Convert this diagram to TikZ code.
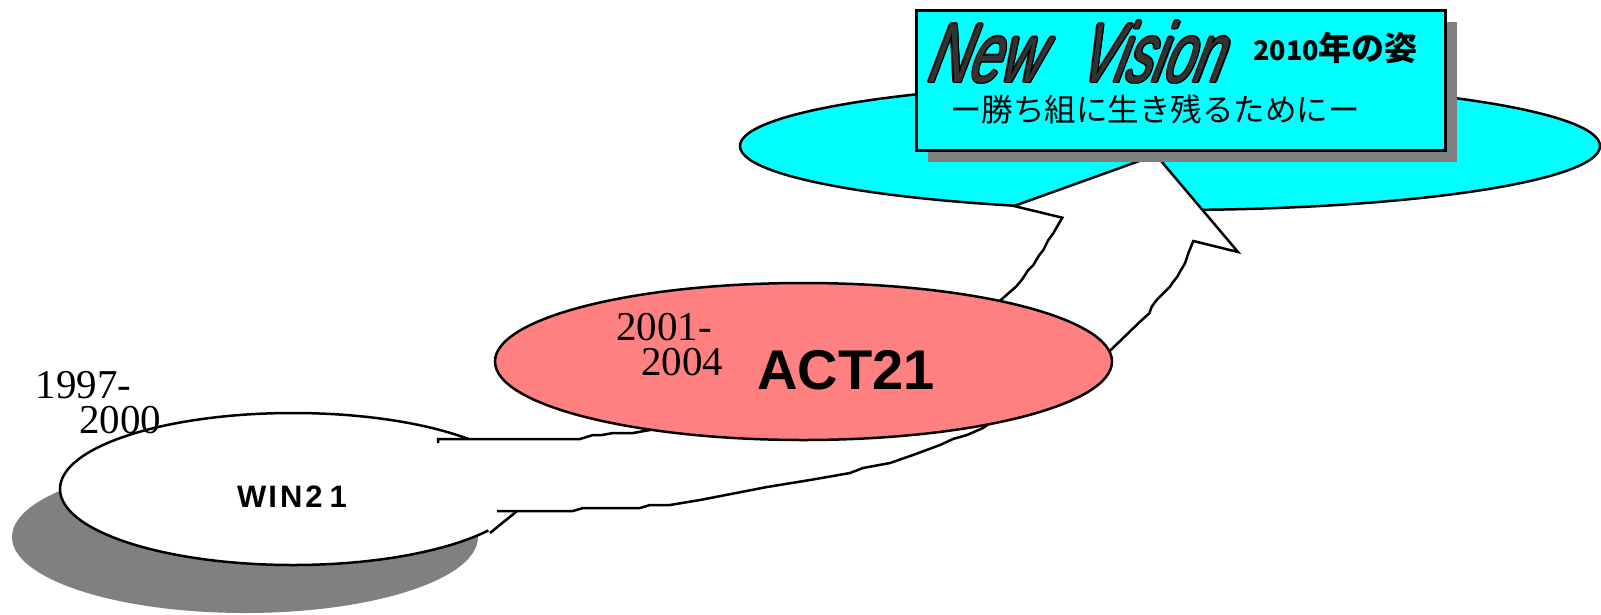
\documentclass[tikz,border=0pt]{standalone}
\usepackage{fontspec}
\setmainfont{Liberation Serif}
\newfontfamily\sansfont{Liberation Sans}
\newfontfamily\nvfontA[FakeSlant=0.38,FakeStretch=0.68]{Liberation Sans}
\newfontfamily\nvfontB[FakeSlant=0.38,FakeStretch=0.63]{Liberation Sans}
\newfontfamily\jpfont{Noto Sans CJK JP}
\usetikzlibrary{shapes.geometric}
\definecolor{cyanfill}{HTML}{00FFFF}
\definecolor{pinkfill}{HTML}{FF8080}
\definecolor{shadowgray}{HTML}{808080}
\definecolor{nvgray}{HTML}{333333}
\begin{document}
\begin{tikzpicture}[x=1pt,y=-1pt,
  outline/.style={draw=black,line width=2.5pt},
  oval/.style={ellipse,inner sep=0pt,outer sep=0pt},
  yeartext/.style={anchor=base west,inner sep=0pt,font=\fontsize{41}{41}\selectfont},
  nvtextA/.style={anchor=base west,inner sep=0pt,font=\nvfontA\fontsize{84}{84}\selectfont},
  nvtextB/.style={anchor=base west,inner sep=0pt,font=\nvfontB\fontsize{84}{84}\selectfont},
  arrowline/.style={draw=black,line width=2.5pt}
]
\useasboundingbox (0,0) rectangle (1601,614);

% WIN21 shadow and ellipse
\node[oval,fill=shadowgray,minimum width=466pt,minimum height=152pt] (winshadow) at (245,537) {};
\node[oval,outline,fill=white,minimum width=466pt,minimum height=152pt] (win) at (293,489) {};

% New Vision ellipse
\node[oval,outline,fill=cyanfill,minimum width=860pt,minimum height=128pt] (vision) at (1170,146) {};

% big curved arrow
\fill[white] (438,443) -- (438,439) -- (580,439) -- (593,435) -- (602,435) -- (613,433) -- (633,433) -- (650,430)
  -- (820,370) -- (1000,300.7) -- (1016,286.7) -- (1021.7,280) -- (1028.3,270) -- (1033.3,265) -- (1039.3,255)
  -- (1043.3,250) -- (1048.3,240) -- (1053.3,233.3) -- (1056.7,227.3) -- (1062.3,217.7) -- (1014,206)
  -- (1156,155) -- (1238,252) -- (1193.3,241) -- (1188.3,253.3) -- (1185,263.3) -- (1180,271.7) -- (1177.3,276.7)
  -- (1173.3,281.7) -- (1170,286.7) -- (1163.3,293.3) -- (1156.7,300) -- (1151.7,306.7) -- (1149.3,313.3)
  -- (1140,321.7) -- (1110,350.7) -- (1075,385) -- (990,423) -- (983,428) -- (967,435) -- (953,439) -- (940,445)
  -- (913,455) -- (890,463) -- (863,468) -- (850,473) -- (833,476) -- (810,480) -- (767,487) -- (700,500)
  -- (670,505) -- (650,505) -- (640,508) -- (583,508) -- (573,511) -- (517,511) -- (490,533) -- cycle;
\draw[arrowline] (438,443) -- (438,439) -- (580,439) -- (593,435) -- (602,435) -- (613,433) -- (633,433) -- (650,430)
  -- (820,370) -- (1000,300.7) -- (1016,286.7) -- (1021.7,280) -- (1028.3,270) -- (1033.3,265) -- (1039.3,255)
  -- (1043.3,250) -- (1048.3,240) -- (1053.3,233.3) -- (1056.7,227.3) -- (1062.3,217.7) -- (1014,206)
  -- (1156,155) -- (1238,252) -- (1193.3,241) -- (1188.3,253.3) -- (1185,263.3) -- (1180,271.7) -- (1177.3,276.7)
  -- (1173.3,281.7) -- (1170,286.7) -- (1163.3,293.3) -- (1156.7,300) -- (1151.7,306.7) -- (1149.3,313.3)
  -- (1140,321.7) -- (1110,350.7) -- (1075,385) -- (990,423) -- (983,428) -- (967,435) -- (953,439) -- (940,445)
  -- (913,455) -- (890,463) -- (863,468) -- (850,473) -- (833,476) -- (810,480) -- (767,487) -- (700,500)
  -- (670,505) -- (650,505) -- (640,508) -- (583,508) -- (573,511) -- (497,511);
\draw[arrowline] (517,511) -- (490,533);

% ACT21 ellipse
\node[oval,outline,fill=pinkfill,minimum width=617pt,minimum height=157pt] (act) at (803.5,361.5) {};

% title box
\node[fill=shadowgray,minimum width=529pt,minimum height=140pt,inner sep=0pt,anchor=north west] (titleshadow) at (928,22) {};
\node[draw=black,line width=3pt,fill=cyanfill,minimum width=529pt,minimum height=140pt,inner sep=0pt,anchor=north west] (title) at (915,9) {};

% texts
\node[yeartext] (y1a) at (35.5,398) {1997-};
\node[yeartext] (y1b) at (79,433) {2000};
\node[yeartext] (y2a) at (616,340) {2001-};
\node[yeartext] (y2b) at (641,375) {2004};
\node[anchor=base,inner sep=0pt,font=\sansfont\bfseries\fontsize{31}{31}\selectfont] (wintext) at (292,507) {W\kern2pt I\kern3pt N\kern3pt 2\kern7pt 1};
\node[anchor=base,inner sep=0pt,font=\sansfont\bfseries\fontsize{56}{56}\selectfont] (acttext) at (846,389) {ACT21};

\foreach \dx/\dy [count=\i] in {1.4/0,-1.4/0,0/1.4,0/-1.4,1/1,-1/1,1/-1,-1/-1} {
  \node[nvtextA,text=black] (newo\i) at (924+\dx,82+\dy) {New};
  \node[nvtextB,text=black] (viso\i) at (1076+\dx,82+\dy) {Vision};
}
\node[nvtextA,text=nvgray] (newword) at (924,82) {New};
\node[nvtextB,text=nvgray] (visionword) at (1076,82) {Vision};

\node[anchor=base west,inner sep=0pt,font=\jpfont\bfseries] (year2010) at (1253,60)
  {\fontsize{27}{27}\selectfont 2010\fontsize{33}{33}\selectfont 年の姿};
\node[anchor=base west,inner sep=0pt,font=\jpfont\fontsize{31.5}{31.5}\selectfont] (subtitle) at (950,121)
  {ー勝ち組に生き残るためにー};
\end{tikzpicture}
\end{document}
